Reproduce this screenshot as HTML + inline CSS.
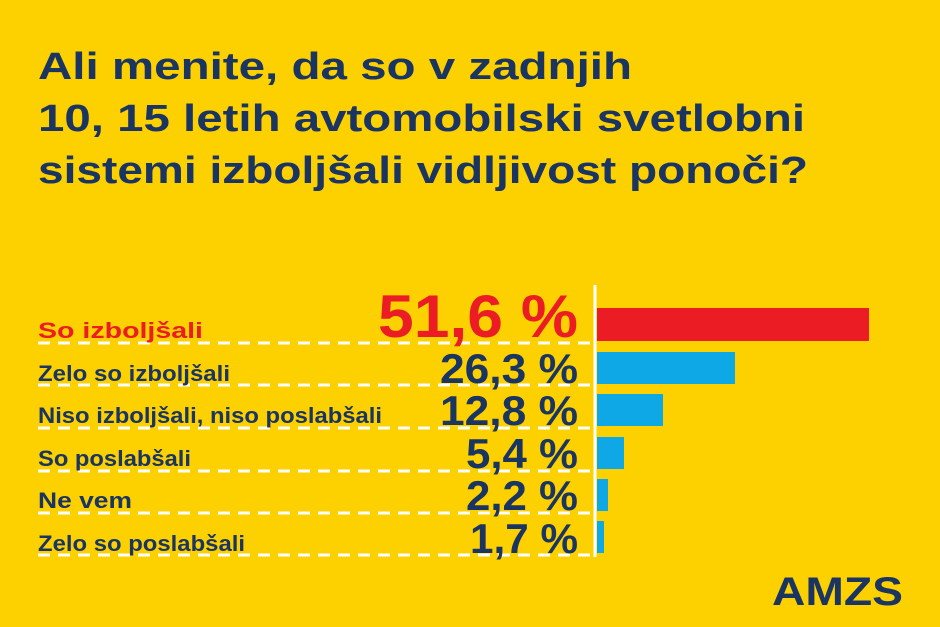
<!DOCTYPE html>
<html><head><meta charset="utf-8"><style>
html,body{margin:0;padding:0;background:#FDD000;}
svg{display:block}
</style></head><body>
<svg width="940" height="627" viewBox="0 0 940 627" xmlns="http://www.w3.org/2000/svg">
<defs>
<linearGradient id="fade" x1="0" x2="1" y1="0" y2="0">
<stop offset="0" stop-color="#fff" stop-opacity="1"/>
<stop offset="0.6" stop-color="#fff" stop-opacity="0.9"/>
<stop offset="1" stop-color="#fff" stop-opacity="0.1"/>
</linearGradient>
</defs>
<rect width="940" height="627" fill="#FDD000"/>
<g font-family="Liberation Sans, sans-serif" font-weight="bold" fill="#1B3563" font-size="38">
<text x="38" y="79" textLength="594" lengthAdjust="spacingAndGlyphs">Ali menite, da so v zadnjih</text>
<text x="38" y="131" textLength="767" lengthAdjust="spacingAndGlyphs">10, 15 letih avtomobilski svetlobni</text>
<text x="38" y="183" textLength="770" lengthAdjust="spacingAndGlyphs">sistemi izboljšali vidljivost ponoči?</text>
</g>
<g stroke-width="3" stroke-dasharray="12 8">
<line x1="38" x2="595" y1="343" y2="343" stroke="#fff"/>
<line x1="38" x2="595" y1="385" y2="385" stroke="#fff"/>
<line x1="38" x2="595" y1="428" y2="428" stroke="#fff"/>
<line x1="38" x2="595" y1="471" y2="471" stroke="#fff"/>
<line x1="38" x2="595" y1="513" y2="513" stroke="#fff"/>
<line x1="38" x2="595" y1="555" y2="555" stroke="#fff"/>
</g>
<g stroke-width="3" stroke-dasharray="12 8">
<line x1="598" x2="885" y1="343" y2="343" stroke="url(#fade)"/>
<line x1="598" x2="885" y1="385" y2="385" stroke="url(#fade)"/>
<line x1="598" x2="885" y1="428" y2="428" stroke="url(#fade)"/>
<line x1="598" x2="885" y1="471" y2="471" stroke="url(#fade)"/>
<line x1="598" x2="885" y1="513" y2="513" stroke="url(#fade)"/>
<line x1="598" x2="885" y1="555" y2="555" stroke="url(#fade)"/>
</g>
<rect x="597" y="308" width="272" height="33" fill="#EC1C24"/>
<rect x="597" y="352" width="138" height="32" fill="#0EA8E6"/>
<rect x="597" y="394" width="66" height="32" fill="#0EA8E6"/>
<rect x="597" y="437" width="27" height="32" fill="#0EA8E6"/>
<rect x="597" y="479" width="11" height="32" fill="#0EA8E6"/>
<rect x="597" y="521" width="7" height="32" fill="#0EA8E6"/>
<line x1="595" x2="595" y1="285" y2="557" stroke="#fff" stroke-width="3"/>
<g font-family="Liberation Sans, sans-serif" font-size="22" fill="#1B3563" font-weight="bold">
<text x="38" y="338" fill="#EC1C24" textLength="165" lengthAdjust="spacingAndGlyphs">So izboljšali</text>
<text x="38" y="381" textLength="192" lengthAdjust="spacingAndGlyphs">Zelo so izboljšali</text>
<text x="38" y="423" textLength="344" lengthAdjust="spacingAndGlyphs">Niso izboljšali, niso poslabšali</text>
<text x="38" y="466" textLength="153" lengthAdjust="spacingAndGlyphs">So poslabšali</text>
<text x="38" y="508" textLength="94" lengthAdjust="spacingAndGlyphs">Ne vem</text>
<text x="38" y="551" textLength="207" lengthAdjust="spacingAndGlyphs">Zelo so poslabšali</text>
</g>
<g font-family="Liberation Sans, sans-serif" font-weight="bold" fill="#1B3563" text-anchor="end">
<text x="578" y="337" font-size="60" fill="#EC1C24" textLength="200" lengthAdjust="spacingAndGlyphs">51,6 %</text>
<text x="578" y="383" font-size="42" textLength="138" lengthAdjust="spacingAndGlyphs">26,3 %</text>
<text x="578" y="425" font-size="42" textLength="138" lengthAdjust="spacingAndGlyphs">12,8 %</text>
<text x="578" y="468" font-size="42" textLength="112" lengthAdjust="spacingAndGlyphs">5,4 %</text>
<text x="578" y="510" font-size="42" textLength="112" lengthAdjust="spacingAndGlyphs">2,2 %</text>
<text x="578" y="553" font-size="42" textLength="108" lengthAdjust="spacingAndGlyphs">1,7 %</text>
</g>
<text x="772" y="605" font-family="Liberation Sans, sans-serif" font-weight="bold" font-size="40" fill="#1B3563" textLength="131" lengthAdjust="spacingAndGlyphs">AMZS</text>
</svg>
</body></html>
